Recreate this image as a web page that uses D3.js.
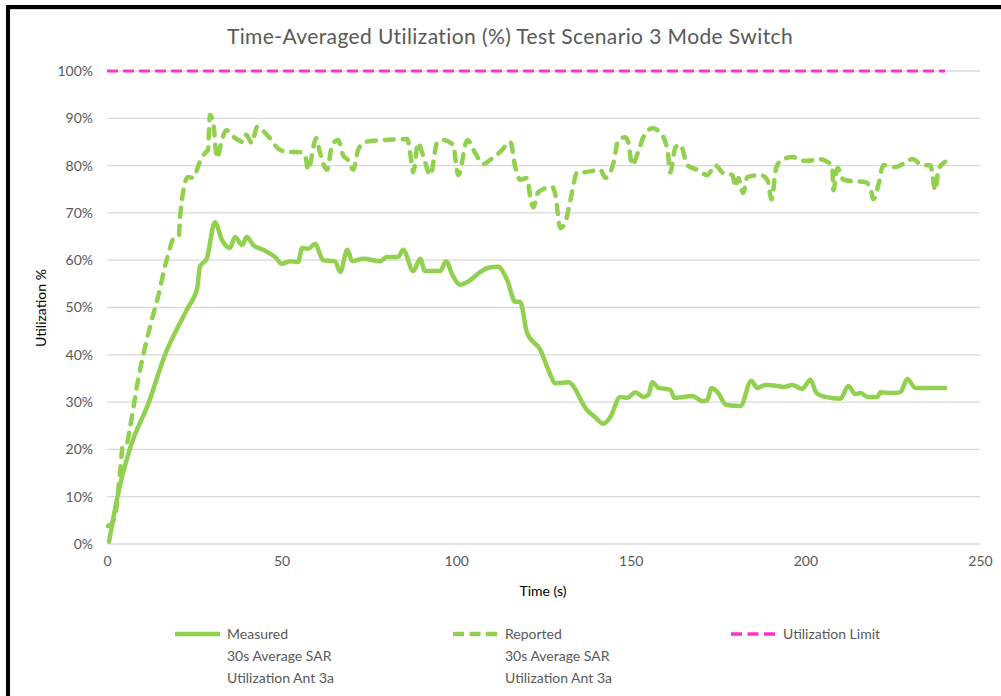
<!DOCTYPE html>
<html>
<head>
<meta charset="utf-8">
<script src="https://cdn.jsdelivr.net/npm/d3@7"></script>
<style>
  body { margin: 0; background: #fff; }
  text { font-family: Lato, "Open Sans", sans-serif; }
</style>
</head>
<body>
<script>
//chart values
var measuredTime = [0.6, 3, 6.5, 12, 16.6, 20.9, 23.2, 25.8, 26.6, 28.6, 30.9, 32.9, 35.2, 36.7, 38.7, 40, 41.9, 44.7, 48.1, 50.1,
    52.4, 54.7, 55.9, 57.6, 59.6, 61.9, 65.3, 66.8, 68.8, 70.2, 73.4, 78.2, 80.2, 83.4, 84.8, 87.7, 89.7, 91.1, 95.4, 97.1,
    98.9, 101.1, 103.2, 106.9, 109.2, 112, 114.6, 116.9, 118.3, 120.3, 124.1, 126.4, 128.4, 132.1, 137.5, 139.8, 142.1, 144.1, 147, 149,
    151.3, 153.6, 155, 156.2, 157.9, 161.3, 162.5, 165.1, 167.6, 170.5, 171.9, 173.1, 174.8, 177.4, 181.4, 184.5, 186.2, 188.5, 192, 193.7,
    196.3, 199.1, 201.4, 203.2, 205.7, 210, 212.3, 214.3, 215.8, 217.8, 220.6, 221.5, 224.9, 227.2, 229.2, 231.5, 240];
var measuredValue = [0.5, 10, 20, 30, 40, 46.7, 50, 54, 58.6, 60.4, 68, 64.3, 62.6, 64.9, 63.2, 64.9, 63.2, 62.2, 60.7, 59.2,
    59.8, 59.6, 62.6, 62.4, 63.4, 60, 59.8, 57.5, 62.2, 59.8, 60.3, 59.8, 60.7, 60.7, 62.2, 57.7, 60.3, 57.7, 57.7, 59.8,
    56.9, 54.8, 55.4, 57.5, 58.4, 58.6, 55.8, 51.2, 51.2, 44.6, 41, 36.8, 34, 34.2, 28.3, 26.8, 25.4, 26.8, 31.1, 30.9,
    32.1, 31.1, 31.5, 34.2, 33, 32.6, 30.9, 31.1, 31.3, 30.2, 30.4, 33, 32.1, 29.4, 29.2, 34.5, 33, 33.6, 33.4, 33.2,
    33.6, 32.8, 34.7, 31.9, 31.1, 30.7, 33.4, 31.7, 31.9, 31.1, 31.1, 32.1, 31.9, 32.1, 34.9, 33, 33];

var reportedTime = [0.3, 1.7, 2.6, 3.7, 4.6, 5.7, 6.6, 8.9, 12.3, 14.6, 17.2, 19.5, 20.6, 20.9, 23.2, 24.6, 26.6, 28.1, 28.9, 29.5,
    30.4, 31.5, 32.9, 34.1, 36.7, 39, 39.8, 41.5, 43, 45.8, 49.6, 51.9, 54.7, 56.7, 57.6, 59.9, 61, 63, 64.5, 66.2,
    67.6, 69, 70.5, 71.9, 73.9, 79.1, 86, 86.8, 87.7, 89.1, 90.5, 92.6, 94.6, 96.3, 99.1, 100.6, 103.2, 105.4, 107.7, 109.7,
    112.6, 115.5, 116.9, 118.3, 120.3, 121.2, 122.1, 123.5, 127.5, 128.4, 129.8, 131.2, 132.7, 134.7, 136.4, 139.3, 141.3, 142.7, 145, 146.4,
    148.4, 149.3, 150.4, 152.1, 153.6, 156.2, 158.5, 160.5, 161.3, 162.8, 164.2, 166.2, 169.1, 171.9, 174.2, 176.5, 179.1, 180, 180.8, 182.2,
    183.4, 187.1, 189.1, 190.3, 191.7, 193.4, 196.3, 199.1, 200.9, 203.7, 206.3, 207.7, 208, 209.2, 210.9, 213.8, 217.2, 218.6, 219.5, 220.9,
    222.3, 225.8, 227.8, 230.7, 233.5, 235.8, 237.2, 238.1, 240];
var reportedValue = [3.8, 4.7, 7.2, 15, 21, 21.4, 24.7, 34.7, 45.9, 52.2, 60.4, 65.1, 65.3, 69.1, 77.6, 77.4, 80.8, 82.7, 83.3, 90.7,
    89.2, 81.6, 85.4, 87.5, 85.8, 85, 86.5, 84.8, 88.2, 86.5, 83.3, 82.9, 82.9, 82.2, 79.1, 85.8, 82.7, 79.1, 84.4, 85.4,
    82.2, 81.2, 79.1, 83.3, 85, 85.4, 85.6, 82.7, 78.6, 84.8, 82.2, 78, 85, 85.4, 84.4, 78, 85.4, 82.7, 80.3, 81.2,
    82.9, 85, 79.7, 77, 77.4, 73.4, 71.2, 74.4, 75.5, 73.8, 66.8, 67.9, 72.7, 78.6, 78.6, 78.9, 79.1, 77.4, 80.5, 85.4,
    86, 84.8, 80.1, 82.9, 86, 87.9, 86.9, 83.3, 78.6, 83.9, 84.4, 80.1, 79.1, 78, 80.1, 78.4, 78, 75.5, 77.4, 74.2,
    77.6, 78, 77, 72.9, 79.7, 81.2, 81.8, 81, 81, 81.4, 80.8, 79.7, 74.8, 79.5, 77, 76.7, 76.5, 75.3, 72.9, 75.9,
    80.1, 79.7, 80.3, 81.4, 80.1, 80.1, 74.8, 79.1, 80.8];

var limitTime = [0, 240];
var limitValue = [100, 100];

var xTicks = [0, 50, 100, 150, 200, 250];
var yTicks = [0, 10, 20, 30, 40, 50, 60, 70, 80, 90, 100];

var legendNames = [
    ["Measured", "30s Average SAR", "Utilization Ant 3a"],
    ["Reported", "30s Average SAR", "Utilization Ant 3a"],
    ["Utilization Limit"]
];

window.onload = drawChart();

function drawChart(){

    var width = 1001,
        height = 696;

    var green = "#92d050",
        pink = "#ff33cc";

    var svg = d3.select("body")
        .append("svg")
        .attr("width", width)
        .attr("height", height);

    //frame borders like the screenshot
    svg.append("rect").attr("x", 6).attr("y", 5).attr("width", 4).attr("height", height - 5).attr("fill", "#000");
    svg.append("rect").attr("x", 6).attr("y", 5).attr("width", width - 6).attr("height", 4).attr("fill", "#000");
    svg.append("rect").attr("x", 10).attr("y", 9).attr("width", width - 10).attr("height", 1).attr("fill", "#d0d0d0");

    var x = d3.scaleLinear().domain([0, 250]).range([107, 980]);
    var y = d3.scaleLinear().domain([0, 100]).range([544, 71]);

    //gridlines
    svg.append("g")
        .selectAll("line")
        .data(yTicks)
        .enter()
        .append("line")
        .attr("x1", x(0))
        .attr("x2", x(250))
        .attr("y1", function(d){ return y(d); })
        .attr("y2", function(d){ return y(d); })
        .attr("stroke", "#d9d9d9")
        .attr("stroke-width", 1.3);

    //y axis labels
    var yAxis = svg.append("g")
        .attr("transform", "translate(" + (x(0) - 14) + ",0)")
        .call(d3.axisLeft(y).tickValues(yTicks).tickSize(0).tickPadding(0)
            .tickFormat(function(d){ return d + "%"; }));
    yAxis.select(".domain").remove();
    yAxis.selectAll("text")
        .attr("fill", "#595959")
        .style("font-size", "14px");

    //x axis labels
    var xAxis = svg.append("g")
        .attr("transform", "translate(0," + (y(0) + 12) + ")")
        .call(d3.axisBottom(x).tickValues(xTicks).tickSize(0).tickPadding(0));
    xAxis.select(".domain").remove();
    xAxis.selectAll("text")
        .attr("fill", "#595959")
        .style("font-size", "14px");

    //titles
    svg.append("text")
        .attr("x", 510)
        .attr("y", 44)
        .attr("text-anchor", "middle")
        .attr("fill", "#595959")
        .style("font-size", "21px")
        .style("letter-spacing", "0.4px")
        .text("Time-Averaged Utilization (%) Test Scenario 3 Mode Switch");

    svg.append("text")
        .attr("x", 543)
        .attr("y", 596)
        .attr("text-anchor", "middle")
        .attr("fill", "#000")
        .style("font-size", "14px")
        .text("Time (s)");

    svg.append("text")
        .attr("transform", "translate(46,308) rotate(-90)")
        .attr("text-anchor", "middle")
        .attr("fill", "#000")
        .style("font-size", "14px")
        .text("Utilization %");

    //lines
    var line = d3.line()
        .x(function(d){ return x(d[0]); })
        .y(function(d){ return y(d[1]); })
        .curve(d3.curveMonotoneX);

    var limitData = d3.zip(limitTime, limitValue),
        reportedData = d3.zip(reportedTime, reportedValue),
        measuredData = d3.zip(measuredTime, measuredValue);

    svg.append("path")
        .datum(limitData)
        .attr("d", line)
        .attr("fill", "none")
        .attr("stroke", pink)
        .attr("stroke-width", 3)
        .attr("stroke-dasharray", "11,5");

    svg.append("path")
        .datum(measuredData)
        .attr("d", line)
        .attr("fill", "none")
        .attr("stroke", green)
        .attr("stroke-width", 4.5)
        .attr("stroke-linejoin", "round")
        .attr("stroke-linecap", "round");

    svg.append("path")
        .datum(reportedData)
        .attr("d", line)
        .attr("fill", "none")
        .attr("stroke", green)
        .attr("stroke-width", 4.5)
        .attr("stroke-linejoin", "round")
        .attr("stroke-linecap", "round")
        .attr("stroke-dasharray", "9,9");

    //legend
    var legendX = [175, 453, 731];
    var legendStyle = [
        {color: green, dash: null, w: 4.5},
        {color: green, dash: "11,5.5", w: 4.5},
        {color: pink, dash: "11,5.5", w: 3.5}
    ];

    var legend = svg.selectAll(".legend")
        .data(legendNames)
        .enter()
        .append("g")
        .attr("class", "legend")
        .attr("transform", function(d, i){ return "translate(" + legendX[i] + ",634)"; });

    legend.append("line")
        .attr("x1", 0)
        .attr("x2", 45)
        .attr("y1", 0)
        .attr("y2", 0)
        .attr("stroke", function(d, i){ return legendStyle[i].color; })
        .attr("stroke-width", function(d, i){ return legendStyle[i].w; })
        .attr("stroke-dasharray", function(d, i){ return legendStyle[i].dash; });

    legend.selectAll("text")
        .data(function(d){ return d; })
        .enter()
        .append("text")
        .attr("x", 52)
        .attr("y", function(d, j){ return j * 22 + 5; })
        .attr("fill", "#595959")
        .style("font-size", "14px")
        .text(function(d){ return d; });
}
</script>
</body>
</html>
